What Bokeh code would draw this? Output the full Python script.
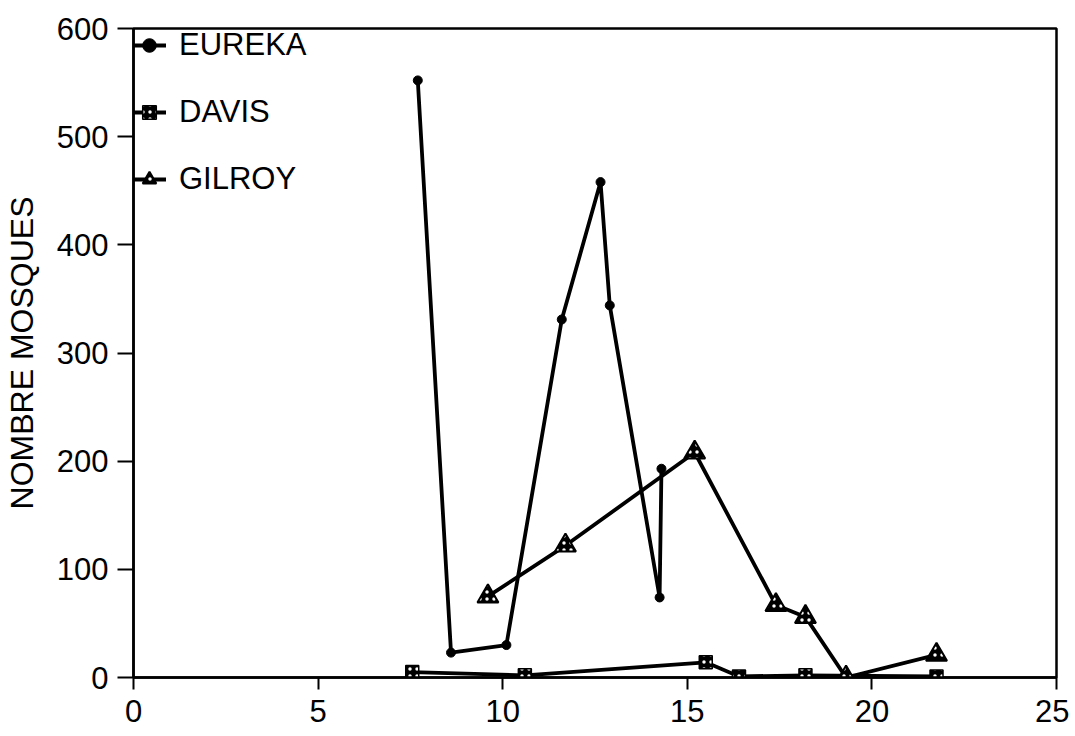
from bokeh.plotting import figure
from bokeh.models import Range1d, FixedTicker, Legend, LegendItem
from bokeh.embed import file_html
from bokeh.resources import INLINE

eureka_x = [7.7, 8.6, 10.1, 11.6, 12.65, 12.9, 14.25, 14.3]
eureka_y = [552, 23, 30, 331, 458, 344, 74, 193]

davis_x = [7.55, 10.6, 15.5, 16.4, 18.2, 21.75]
davis_y = [5, 2, 14, 1, 2, 1]

gilroy_x = [9.6, 11.7, 15.2, 17.4, 18.2, 19.3, 21.75]
gilroy_y = [75, 122, 208, 67, 56, 0, 21]

x_ticks = [0, 5, 10, 15, 20, 25]
y_ticks = [0, 100, 200, 300, 400, 500, 600]
y_title = "NOMBRE MOSQUES"
FONT = "Liberation Sans"

p = figure(width=1069, height=736, output_backend="svg", toolbar_location=None,
           x_range=Range1d(0, 25), y_range=Range1d(0, 600),
           min_border_left=130, min_border_right=13, min_border_top=28, min_border_bottom=59)
p.grid.visible = False
p.background_fill_color = "white"
p.outline_line_color = "black"
p.outline_line_width = 2.5

for ax in (p.xaxis[0], p.yaxis[0]):
    ax.axis_line_color = "black"
    ax.axis_line_width = 2.5
    ax.major_tick_line_color = "black"
    ax.major_tick_line_width = 2
    ax.major_tick_in = 0
    ax.minor_tick_line_color = None
    ax.major_label_text_font = FONT
    ax.major_label_text_font_size = "31px"
    ax.major_label_text_color = "black"

p.xaxis.ticker = FixedTicker(ticks=x_ticks)
p.yaxis.ticker = FixedTicker(ticks=y_ticks)
p.xaxis.major_tick_out = 12
p.yaxis.major_tick_out = 16
p.xaxis.major_label_standoff = 10
p.yaxis.major_label_standoff = 9
p.yaxis.axis_label = y_title
p.yaxis.axis_label_text_font = FONT
p.yaxis.axis_label_text_font_size = "32px"
p.yaxis.axis_label_text_font_style = "normal"
p.yaxis.axis_label_text_color = "black"
p.yaxis.axis_label_standoff = 14

lw = 3.8
le = p.line(eureka_x, eureka_y, line_color="black", line_width=lw)
se = p.scatter(eureka_x, eureka_y, marker="circle", size=9, fill_color="black", line_color="black")

ld = p.line(davis_x, davis_y, line_color="black", line_width=lw)
sd = p.scatter(davis_x, davis_y, marker="square", size=13, fill_color="black", line_color="black",
               line_width=1.5, hatch_pattern="dot", hatch_color="white", hatch_scale=7, hatch_weight=1)

lg = p.line(gilroy_x, gilroy_y, line_color="black", line_width=lw)
sg = p.scatter(gilroy_x, gilroy_y, marker="triangle", size=21, fill_color="black", line_color="black",
               line_width=2, hatch_pattern="dot", hatch_color="white", hatch_scale=7, hatch_weight=1)

legend = Legend(items=[
    LegendItem(label="EUREKA", renderers=[le, se]),
    LegendItem(label="DAVIS", renderers=[ld, sd]),
    LegendItem(label="GILROY", renderers=[lg, sg]),
], location="top_left")
legend.border_line_color = None
legend.background_fill_alpha = 0
legend.glyph_width = 34
legend.glyph_height = 36
legend.label_height = 36
legend.spacing = 31
legend.label_standoff = 13
legend.label_text_font = FONT
legend.label_text_font_size = "31px"
legend.label_text_color = "black"
p.add_layout(legend, "center")
legend.margin = -1
legend.padding = 19

open("out.html", "w").write(file_html(p, INLINE))
